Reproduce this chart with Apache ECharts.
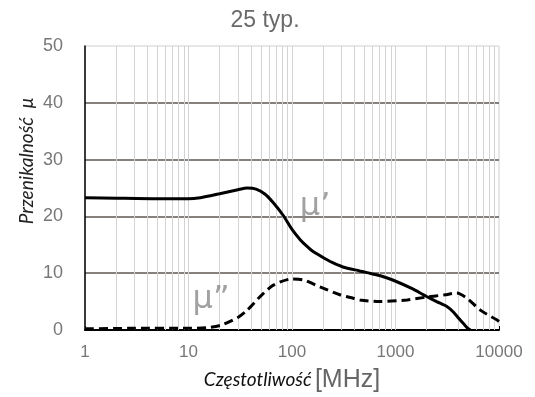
<!DOCTYPE html>
<html>
<head>
<meta charset="utf-8">
<script src="https://cdn.jsdelivr.net/npm/echarts@6/dist/echarts.min.js"></script>
<style>
  html, body { margin: 0; padding: 0; background: #fff; }
  #chart { width: 535px; height: 397px; }
</style>
</head>
<body>
<div id="chart"></div>
<script>
// μ' (solid) – frequency in MHz and permeability
const freqReal = [1, 2, 5, 10, 13, 20, 30, 37, 45, 55, 66, 82, 100, 120, 138, 160, 216, 250, 310, 450, 530, 700, 940, 1400, 2000, 2500, 3160, 3600, 4200, 4600, 5000, 5300];
const muReal = [23.3, 23.2, 23.1, 23.1, 23.3, 24.0, 24.7, 25.0, 24.8, 23.9, 22.4, 20.2, 17.7, 15.9, 14.8, 13.8, 12.4, 11.8, 11.1, 10.4, 10.1, 9.6, 8.8, 7.4, 5.9, 5.0, 4.1, 3.2, 1.8, 1.0, 0.3, 0];

// μ'' (dashed)
const freqImag = [1, 3, 10, 15, 21, 30, 37, 50, 66, 100, 130, 186, 290, 390, 450, 700, 1300, 2000, 3000, 3900, 4900, 6600, 9500, 10000];
const muImag = [0.2, 0.3, 0.3, 0.4, 0.9, 2.2, 3.5, 6.0, 7.9, 9.0, 8.8, 7.6, 6.2, 5.6, 5.3, 5.0, 5.3, 5.8, 6.2, 6.5, 5.6, 3.5, 1.8, 1.5];

// curve labels
const curveLabels = ["μ’", "μ”"];
const labelFreq = [167, 16.5];
const labelMu = [21.7, 5.3];

const xTicks = [1, 10, 100, 1000, 10000];
const yTicks = [0, 10, 20, 30, 40, 50];

// minor log grid lines (2..9 in each decade)
const minorLines = [];
for (let d = 1; d < 10000; d *= 10) {
  for (let k = 2; k <= 9; k++) minorLines.push({ xAxis: k * d });
}
for (let i = 1; i < xTicks.length - 1; i++) minorLines.push({ xAxis: xTicks[i] });

const chart = echarts.init(document.getElementById("chart"));

const option = {
  animation: false,
  title: {
    text: "25 typ.",
    left: 260,
    textAlign: "center",
    top: 4,
    textStyle: { color: "#6a6a6a", fontSize: 23, fontWeight: "normal", fontFamily: "Liberation Sans" },
  },
  grid: {
    left: 85,
    right: 36,
    top: 46,
    bottom: 67,
    show: true,
    borderColor: "#cfcfcf",
    borderWidth: 1,
  },
  xAxis: {
    type: "log",
    logBase: 10,
    min: xTicks[0],
    max: xTicks[xTicks.length - 1],
    axisLine: { show: true, onZero: false, lineStyle: { color: "#000", width: 2 } },
    axisTick: { show: true, inside: true, length: 4, lineStyle: { color: "#000" } },
    axisLabel: { color: "#777", fontSize: 17, margin: 14, fontFamily: "Liberation Sans", formatter: (v) => String(v) },
    splitLine: { show: false },
  },
  yAxis: {
    type: "value",
    min: yTicks[0],
    max: yTicks[yTicks.length - 1],
    interval: 10,
    axisLine: { show: true, lineStyle: { color: "#000", width: 1.5 } },
    axisTick: { show: false },
    axisLabel: { color: "#777", fontSize: 18, margin: 22, fontFamily: "Liberation Sans" },
    splitLine: { show: true, showMinLine: false, showMaxLine: false, lineStyle: { color: "#5e5750", width: 1.5 } },
  },
  graphic: [
    {
      type: "text",
      x: 27,
      y: 161,
      rotation: Math.PI / 2,
      style: {
        text: "Przenikalność  μ",
        fill: "#222",
        font: "italic 19px Lato",
        align: "center",
        verticalAlign: "middle",
      },
    },
    {
      type: "text",
      x: 292,
      y: 380,
      style: {
        text: "{a|Częstotliwość} {b|[MHz]}",
        align: "center",
        verticalAlign: "middle",
        rich: {
          a: { font: "italic 19px Lato", fill: "#111" },
          b: { font: "25px Liberation Sans", fill: "#666" },
        },
      },
    },
  ],
  series: [
    {
      name: "grid",
      type: "line",
      data: [],
      z: 1,
      markLine: {
        silent: true,
        symbol: "none",
        z: 1,
        label: { show: false },
        lineStyle: { color: "#d3d3d3", width: 1, type: "solid" },
        data: minorLines,
      },
    },
    {
      name: "mu1",
      type: "line",
      z: 3,
      smooth: 0.25,
      symbol: "none",
      data: freqReal.map((f, i) => [f, muReal[i]]),
      lineStyle: { color: "#000", width: 3 },
    },
    {
      name: "mu2",
      type: "line",
      z: 3,
      smooth: 0.25,
      symbol: "none",
      data: freqImag.map((f, i) => [f, muImag[i]]),
      lineStyle: { color: "#000", width: 3, type: [9, 5] },
    },
    {
      name: "labels",
      type: "scatter",
      z: 4,
      symbolSize: 0,
      data: curveLabels.map((t, i) => ({ value: [labelFreq[i], labelMu[i]], name: t })),
      label: {
        show: true,
        position: "inside",
        formatter: (p) => p.name,
        color: "#8a8a8a",
        fontSize: 32,
        fontFamily: "DejaVu Sans",
        fontWeight: "normal",
      },
    },
  ],
};

chart.setOption(option);
</script>
</body>
</html>
